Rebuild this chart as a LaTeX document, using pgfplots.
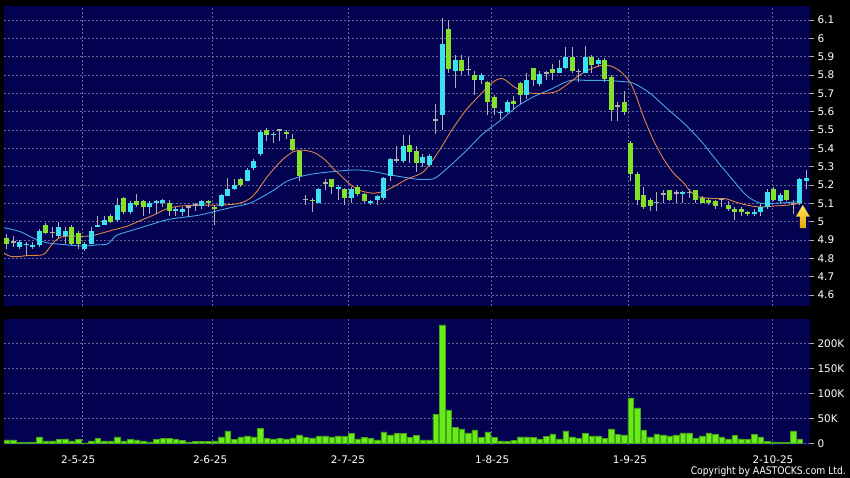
\documentclass[border=0pt]{standalone}
\usepackage{fontspec}
\setmainfont{DejaVu Sans}
\usepackage{pgfplots}
\pgfplotsset{compat=1.18}
\usepackage{pgfplotstable}

\definecolor{navy}{RGB}{2,2,80}
\definecolor{gridc}{RGB}{105,105,150}
\definecolor{upc}{RGB}{60,225,240}
\definecolor{dnc}{RGB}{130,225,40}
\definecolor{wickc}{RGB}{175,175,175}
\definecolor{volc}{RGB}{105,235,25}
\definecolor{volcd}{RGB}{70,165,20}
\definecolor{maO}{RGB}{225,130,70}
\definecolor{maB}{RGB}{70,165,235}

% up candles: n open high low close
\pgfplotstableread[row sep=\\]{
n o h l c \\
3 4.86 4.90 4.85 4.89 \\
4 4.87 4.89 4.82 4.88 \\
5 4.86 4.89 4.85 4.87 \\
6 4.87 4.96 4.86 4.95 \\
9 4.92 5.00 4.91 4.97 \\
10 4.92 4.97 4.88 4.95 \\
13 4.85 4.89 4.84 4.88 \\
14 4.88 4.97 4.88 4.95 \\
15 4.97 5.03 4.97 4.98 \\
16 4.98 5.03 4.98 5.01 \\
18 5.01 5.13 5.00 5.09 \\
20 5.05 5.11 5.04 5.10 \\
23 5.08 5.11 5.04 5.10 \\
24 5.10 5.12 5.04 5.11 \\
25 5.10 5.125 5.08 5.12 \\
27 5.06 5.08 5.03 5.07 \\
28 5.05 5.08 5.03 5.07 \\
31 5.085 5.12 5.07 5.11 \\
34 5.085 5.15 5.08 5.145 \\
35 5.14 5.24 5.14 5.18 \\
36 5.18 5.23 5.17 5.20 \\
38 5.22 5.29 5.22 5.28 \\
39 5.29 5.34 5.28 5.33 \\
40 5.37 5.50 5.36 5.49 \\
42 5.47 5.49 5.43 5.48 \\
49 5.10 5.185 5.10 5.18 \\
52 5.18 5.20 5.12 5.19 \\
54 5.13 5.19 5.10 5.18 \\
57 5.10 5.12 5.09 5.11 \\
58 5.12 5.145 5.09 5.14 \\
59 5.13 5.245 5.12 5.24 \\
60 5.25 5.345 5.22 5.34 \\
62 5.33 5.47 5.32 5.41 \\
65 5.32 5.37 5.30 5.35 \\
66 5.31 5.37 5.30 5.36 \\
68 5.58 6.11 5.50 5.97 \\
70 5.82 5.91 5.73 5.88 \\
74 5.77 5.81 5.75 5.80 \\
77 5.59 5.61 5.56 5.60 \\
78 5.60 5.665 5.59 5.65 \\
81 5.69 5.81 5.67 5.77 \\
83 5.75 5.82 5.74 5.805 \\
86 5.81 5.88 5.81 5.84 \\
87 5.84 5.95 5.83 5.90 \\
90 5.81 5.96 5.81 5.90 \\
92 5.86 5.89 5.85 5.88 \\
105 5.15 5.165 5.10 5.16 \\
116 5.04 5.07 5.03 5.055 \\
117 5.05 5.10 5.03 5.08 \\
118 5.08 5.18 5.07 5.16 \\
120 5.11 5.155 5.10 5.145 \\
123 5.10 5.24 5.09 5.23 \\
124 5.22 5.28 5.18 5.24 \\
}\uptab

% down candles: n open high low close
\pgfplotstableread[row sep=\\]{
n o h l c \\
1 4.91 4.93 4.85 4.88 \\
7 4.98 4.99 4.93 4.94 \\
11 4.97 4.98 4.87 4.88 \\
12 4.94 4.95 4.85 4.88 \\
17 5.03 5.04 4.99 5.00 \\
19 5.13 5.135 5.04 5.05 \\
21 5.11 5.15 5.08 5.09 \\
22 5.11 5.12 5.03 5.08 \\
26 5.10 5.12 5.03 5.06 \\
32 5.11 5.12 5.08 5.10 \\
33 5.08 5.09 4.98 5.07 \\
37 5.23 5.24 5.19 5.20 \\
41 5.50 5.51 5.44 5.47 \\
44 5.49 5.50 5.45 5.48 \\
45 5.45 5.48 5.385 5.39 \\
46 5.385 5.39 5.22 5.25 \\
48 5.12 5.13 5.05 5.11 \\
51 5.23 5.235 5.15 5.19 \\
53 5.18 5.185 5.09 5.13 \\
55 5.19 5.20 5.14 5.15 \\
56 5.15 5.155 5.10 5.11 \\
63 5.42 5.47 5.32 5.38 \\
64 5.385 5.41 5.27 5.32 \\
69 6.05 6.10 5.81 5.83 \\
71 5.88 5.91 5.80 5.82 \\
73 5.80 5.82 5.69 5.77 \\
75 5.76 5.765 5.58 5.65 \\
76 5.68 5.69 5.58 5.62 \\
79 5.66 5.685 5.61 5.64 \\
80 5.755 5.76 5.64 5.69 \\
82 5.84 5.84 5.74 5.77 \\
85 5.83 5.86 5.77 5.81 \\
88 5.90 5.95 5.81 5.82 \\
91 5.90 5.91 5.81 5.855 \\
93 5.88 5.89 5.76 5.78 \\
94 5.79 5.80 5.55 5.61 \\
96 5.65 5.71 5.58 5.60 \\
97 5.43 5.44 5.22 5.26 \\
98 5.26 5.27 5.09 5.12 \\
99 5.145 5.19 5.07 5.08 \\
100 5.12 5.13 5.06 5.085 \\
103 5.17 5.175 5.11 5.12 \\
107 5.17 5.175 5.10 5.12 \\
108 5.13 5.14 5.10 5.10 \\
109 5.12 5.13 5.09 5.10 \\
110 5.11 5.12 5.07 5.085 \\
112 5.09 5.11 5.06 5.07 \\
113 5.07 5.08 5.01 5.05 \\
114 5.07 5.08 5.03 5.05 \\
115 5.055 5.06 5.03 5.04 \\
119 5.18 5.19 5.11 5.12 \\
121 5.17 5.175 5.11 5.12 \\
}\dntab

% doji candles: n high low close
\pgfplotstableread[row sep=\\]{
n h l c \\
2 4.92 4.86 4.89 \\
8 4.97 4.91 4.94 \\
29 5.09 5.03 5.08 \\
30 5.10 5.06 5.09 \\
43 5.50 5.44 5.50 \\
47 5.145 5.09 5.12 \\
50 5.23 5.17 5.21 \\
61 5.41 5.32 5.335 \\
67 5.64 5.48 5.555 \\
72 5.90 5.80 5.83 \\
84 5.82 5.77 5.81 \\
89 5.83 5.76 5.82 \\
95 5.65 5.55 5.63 \\
101 5.16 5.06 5.105 \\
102 5.17 5.10 5.15 \\
104 5.17 5.10 5.155 \\
106 5.18 5.13 5.16 \\
111 5.13 5.08 5.12 \\
122 5.12 5.04 5.10 \\
}\dojitab

\pgfplotsset{
  chartbase/.style={
    scale only axis,
    width=806bp,
    xmin=0.58, xmax=124.6,
    axis background/.style={fill=navy},
    axis line style={draw=none},
    xmajorgrids, ymajorgrids,
    grid style={gridc, line width=0.6bp, dash pattern=on 2bp off 2bp},
    tick align=outside,
    major tick length=4bp,
    ytick pos=right, yticklabel pos=right,
    y tick style={wickc, line width=0.6bp},
    ticklabel style={white, font=\fontsize{10.5}{12}\selectfont},
    clip=true,
  }
}

\begin{document}
\begin{tikzpicture}
\fill[black] (0bp,0bp) rectangle (850bp,478bp);

% ---------------- price panel ----------------
\begin{axis}[chartbase,
  at={(4bp,172bp)}, anchor=south west,
  height=300bp,
  ymin=4.54, ymax=6.176,
  ytick={4.6,4.7,4.8,4.9,5.0,5.1,5.2,5.3,5.4,5.5,5.6,5.7,5.8,5.9,6.0,6.1},
  yticklabels={4.6,4.7,4.8,4.9,5,5.1,5.2,5.3,5.4,5.5,5.6,5.7,5.8,5.9,6,6.1},
  xtick={12.69,32.66,53.55,75.58,96.63,118.8},
  xticklabels={},
  x tick style={draw=none},
]
% moving averages
\addplot[maB, line width=0.9bp, smooth] coordinates {
(0.6,4.967) (3.1,4.945) (5.1,4.91) (7.2,4.885) (10.3,4.873) (12.8,4.867) (14.8,4.873) (16.6,4.88)
(17.9,4.925) (20.5,4.955) (23,4.982) (25.6,5.01) (28.2,5.024) (30.7,5.036) (33.5,5.06) (35.9,5.08)
(38.4,5.10) (39.9,5.127) (42,5.17) (44,5.218) (46.1,5.245) (48.1,5.26) (51.2,5.273) (54.8,5.282)
(57.4,5.273) (60,5.255) (62.5,5.24) (64.6,5.23) (66.6,5.233) (67.6,5.255) (69.7,5.32) (71.8,5.39)
(74.3,5.48) (76.9,5.55) (79.5,5.627) (82,5.68) (84.6,5.72) (87.7,5.77) (90.3,5.77) (93.3,5.77)
(95.3,5.765) (97.4,5.755) (100,5.70) (102.5,5.62) (105.2,5.536) (107.7,5.445) (110.3,5.33)
(112.9,5.22) (114.9,5.14) (117,5.10) (119,5.10) (121.1,5.104) (123.1,5.11)};
\addplot[maO, line width=0.9bp, smooth] coordinates {
(0.6,4.827) (1.7,4.81) (3,4.81) (4.1,4.815) (6.6,4.82) (7.6,4.86) (8.6,4.90) (9.9,4.92) (12.8,4.92)
(14.3,4.925) (15.4,4.935) (17.4,4.955) (19.5,4.975) (21.5,5.005) (23.6,5.036) (25.6,5.07)
(27.7,5.085) (30.7,5.09) (33.8,5.09) (36.8,5.10) (38.9,5.14) (41.2,5.25) (43.2,5.33) (45,5.38)
(46.3,5.39) (47.5,5.385) (48.7,5.37) (50.2,5.33) (51.2,5.29) (52.3,5.255) (53.3,5.22) (54.3,5.19)
(55.3,5.17) (56.4,5.16) (57.4,5.155) (58.4,5.16) (59.4,5.17) (60.5,5.19) (61.5,5.21) (62.5,5.23)
(63.5,5.245) (64.6,5.26) (65.6,5.29) (67.6,5.39) (69.5,5.50) (71.7,5.61) (73.8,5.69) (75.8,5.76)
(76.9,5.78) (77.6,5.775) (78.9,5.74) (80.4,5.71) (82,5.70) (84,5.70) (85.6,5.71) (87.1,5.745)
(89.2,5.80) (90.7,5.83) (92.3,5.85) (93.8,5.85) (95.4,5.82) (96.9,5.76) (97.9,5.68) (99,5.57)
(100.5,5.445) (102.1,5.34) (103.6,5.265) (105.2,5.21) (106.2,5.164) (107.3,5.136) (109.3,5.127)
(111.6,5.125) (112.9,5.11) (114.9,5.09) (117,5.08) (119,5.085) (121.1,5.09) (123.1,5.10)};
% wicks
\addplot[draw=none, mark=none, forget plot, error bars/.cd, y dir=plus, y explicit, error mark=none,
  error bar style={draw=wickc, line width=0.9bp}]
  table[x=n, y=l, y error plus expr={\thisrow{h}-\thisrow{l}}] {\uptab};
\addplot[draw=none, mark=none, forget plot, error bars/.cd, y dir=plus, y explicit, error mark=none,
  error bar style={draw=wickc, line width=0.9bp}]
  table[x=n, y=l, y error plus expr={\thisrow{h}-\thisrow{l}}] {\dntab};
\addplot[draw=none, mark=none, forget plot, error bars/.cd, y dir=plus, y explicit, error mark=none,
  error bar style={draw=wickc, line width=0.9bp}]
  table[x=n, y=l, y error plus expr={\thisrow{h}-\thisrow{l}}] {\dojitab};
% bodies
\addplot[draw=none, mark=none, forget plot, error bars/.cd, y dir=plus, y explicit, error mark=none,
  error bar style={draw=upc, line width=5.2bp}]
  table[x=n, y=o, y error plus expr={\thisrow{c}-\thisrow{o}}] {\uptab};
\addplot[draw=none, mark=none, forget plot, error bars/.cd, y dir=plus, y explicit, error mark=none,
  error bar style={draw=dnc, line width=5.2bp}]
  table[x=n, y=c, y error plus expr={\thisrow{o}-\thisrow{c}}] {\dntab};
\addplot[only marks, mark=-, mark size=2.6bp, mark options={draw=wickc, line width=1.5bp}, forget plot]
  table[x=n, y=c] {\dojitab};
% yellow arrow
\shade[top color={rgb,255:red,255;green,230;blue,90}, bottom color={rgb,255:red,235;green,165;blue,0}]
  (axis cs:123.5,5.091) -- (axis cs:124.58,5.027) -- (axis cs:123.96,5.027) -- (axis cs:123.96,4.964)
  -- (axis cs:123.04,4.964) -- (axis cs:123.04,5.027) -- (axis cs:122.42,5.027) -- cycle;
\end{axis}

% ---------------- volume panel ----------------
\begin{axis}[chartbase,
  at={(4bp,33bp)}, anchor=south west,
  height=126bp,
  ymin=-3.4, ymax=248.6,
  ytick={0,50,100,150,200},
  yticklabels={0,50K,100K,150K,200K},
  xtick={12.69,32.66,53.55,75.58,96.63,118.8},
  xticklabels={},
  x tick style={draw=none},
  extra x ticks={12.0,32.3,53.5,75.7,96.9,118.9},
  extra x tick labels={2-5-25,2-6-25,2-7-25,1-8-25,1-9-25,2-10-25},
  extra x tick style={grid=none, tick style={draw=wickc, line width=0.6bp}},
  xticklabel style={yshift=-3bp},
]
\addplot[ybar, bar width=5.6bp, fill=volc, draw=volcd, line width=0.4bp] coordinates {
(1,6.7) (2,6.7) (3,2) (4,2) (5,3) (6,12.7) (7,5) (8,5) (9,8) (10,9) (11,5) (12,8) (13,1) (14,5)
(15,10) (16,5) (17,5) (18,12.7) (19,4.7) (20,8) (21,6.7) (22,5) (23,2.7) (24,8) (25,10) (26,10)
(27,8) (28,6) (29,2.7) (30,4) (31,4) (32,4) (33,5) (34,12.7) (35,25) (36,8) (37,12.7) (38,15)
(39,12.7) (40,30) (41,10) (42,8.7) (43,10) (44,9) (45,11) (46,16.7) (47,12) (48,10.7) (49,14.7)
(50,15) (51,13) (52,15) (53,14) (54,20) (55,8.7) (56,12) (57,10) (58,6.7) (59,22.7) (60,16.7)
(61,20) (62,20) (63,12) (64,16) (65,6.7) (66,6.7) (67,58) (68,237) (69,67) (70,32) (71,28.7)
(72,21) (73,26.7) (74,12) (75,22.7) (76,12) (77,4.7) (78,3.3) (79,6) (80,13) (81,13) (82,12)
(83,9) (84,14) (85,18.7) (86,9) (87,24.7) (88,12.7) (89,10) (90,20) (91,14.7) (92,14.7) (93,10)
(94,29) (95,18) (96,16.7) (97,90.7) (98,70.7) (99,26.7) (100,13) (101,18.7) (102,16.7) (103,15)
(104,16.7) (105,20.7) (106,21) (107,10) (108,15) (109,21) (110,18) (111,13) (112,8.7) (113,16)
(114,8.7) (115,8) (116,17.3) (117,12.7) (118,3.3) (119,2.7) (120,1.3) (121,1.3) (122,24.7) (123,9)};
\end{axis}

\node[anchor=base east, white, font=\fontsize{10.5}{12}\selectfont, xscale=0.88, inner sep=0pt]
  at (846bp,4bp) {Copyright by AASTOCKS.com Ltd.};
\end{tikzpicture}
\end{document}
